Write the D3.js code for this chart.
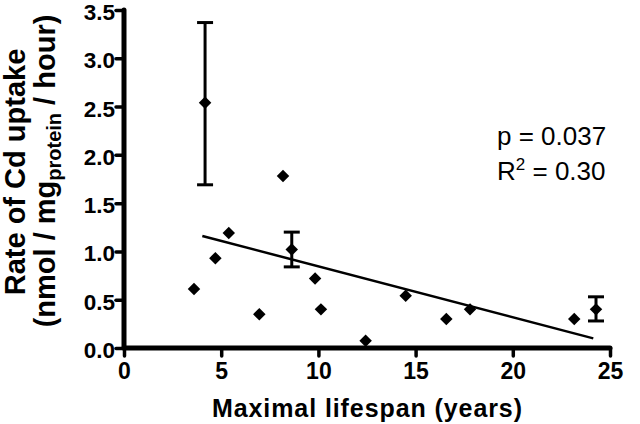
<!DOCTYPE html>
<html>
<head>
<meta charset="utf-8">
<script src="https://cdn.jsdelivr.net/npm/d3@7"></script>
<style>
  html, body { margin: 0; padding: 0; background: #fff; }
  svg { display: block; }
  text { font-family: "Liberation Sans", Arial, Helvetica, sans-serif; fill: #000; }
</style>
</head>
<body>
<svg id="chart" width="640" height="424"></svg>
<script>
// ---- data ----
const lifespan = [3.60, 4.17, 4.70, 5.39, 6.96, 8.18, 8.63, 9.83, 10.13, 12.43, 14.49, 16.58, 17.80, 23.16, 24.28];
const uptake   = [0.61, 2.54, 0.93, 1.19, 0.35, 1.78, 1.02, 0.72, 0.40, 0.076, 0.54, 0.30, 0.40, 0.30, 0.40];
const errLow   = [null, 1.69, null, null, null, null, 0.84, null, null, null, null, null, null, null, 0.28];
const errHigh  = [null, 3.37, null, null, null, null, 1.20, null, null, null, null, null, null, null, 0.53];
const fitX = [4.03, 24.14];
const fitY = [1.16, 0.10];
const xTicks = [0, 5, 10, 15, 20, 25];
const yTicks = [0.0, 0.5, 1.0, 1.5, 2.0, 2.5, 3.0, 3.5];
const statP = "p = 0.037";
const statR = "0.30";

// ---- chart ----
const svg = d3.select("#chart");
const x = d3.scaleLinear().domain([0, 25]).range([124, 610]);
const y = d3.scaleLinear().domain([0, 3.5]).range([348, 10]);

// axes
const xAxis = svg.append("g").attr("transform", `translate(0,${y(0)})`)
  .call(d3.axisBottom(x).tickValues(xTicks).tickFormat(d3.format("d")).tickSize(8).tickPadding(6));
const yAxis = svg.append("g").attr("transform", `translate(${x(0)},0)`)
  .call(d3.axisLeft(y).tickValues(yTicks).tickFormat(d3.format(".1f")).tickSize(8).tickPadding(1));

[xAxis, yAxis].forEach(g => {
  g.select(".domain").remove();
  g.selectAll(".tick line").attr("stroke", "#000").attr("stroke-width", 3.5).attr("stroke-linecap", "round");
  g.selectAll(".tick text").attr("fill", "#000")
    .style("font-family", "'Liberation Sans', Arial, sans-serif")
    .style("font-weight", "bold").style("font-size", "23px");
});
xAxis.selectAll(".tick text").attr("dy", "0.75em");
yAxis.selectAll(".tick text").attr("dy", "0.42em").style("font-size", "22.5px");

// axis lines
svg.append("line").attr("x1", x(0)).attr("x2", x(0)).attr("y1", y(0)).attr("y2", y(3.5))
  .attr("stroke", "#000").attr("stroke-width", 5).attr("stroke-linecap", "round");
svg.append("line").attr("x1", x(0)).attr("x2", x(25)).attr("y1", y(0)).attr("y2", y(0))
  .attr("stroke", "#000").attr("stroke-width", 5).attr("stroke-linecap", "round");

// regression line
svg.append("path")
  .datum(fitX.map((v, i) => [v, fitY[i]]))
  .attr("d", d3.line().x(d => x(d[0])).y(d => y(d[1])))
  .attr("stroke", "#000").attr("stroke-width", 2.5).attr("fill", "none");

// error bars
const pts = lifespan.map((v, i) => ({ x: v, y: uptake[i], lo: errLow[i], hi: errHigh[i] }));
const eb = svg.append("g").selectAll("g").data(pts.filter(d => d.lo !== null)).join("g");
eb.append("line").attr("x1", d => x(d.x)).attr("x2", d => x(d.x))
  .attr("y1", d => y(d.lo)).attr("y2", d => y(d.hi)).attr("stroke", "#000").attr("stroke-width", 3);
eb.append("line").attr("x1", d => x(d.x) - 8).attr("x2", d => x(d.x) + 8)
  .attr("y1", d => y(d.hi)).attr("y2", d => y(d.hi)).attr("stroke", "#000").attr("stroke-width", 3);
eb.append("line").attr("x1", d => x(d.x) - 8).attr("x2", d => x(d.x) + 8)
  .attr("y1", d => y(d.lo)).attr("y2", d => y(d.lo)).attr("stroke", "#000").attr("stroke-width", 3);

// points (diamonds)
const sym = d3.symbol().type(d3.symbolSquare).size(78);
svg.append("g").selectAll("path").data(pts).join("path")
  .attr("d", sym)
  .attr("transform", d => `translate(${x(d.x)},${y(d.y)}) rotate(45)`)
  .attr("fill", "#000");

// stats text
svg.append("text").attr("x", 497).attr("y", 145).style("font-size", "26px").text(statP);
const r2 = svg.append("text").attr("x", 497).attr("y", 180).style("font-size", "26px");
r2.append("tspan").text("R");
r2.append("tspan").attr("dy", -10).style("font-size", "17px").text("2");
r2.append("tspan").attr("dy", 10).text(" = " + statR);

// x title
svg.append("text").attr("x", 367).attr("y", 417).attr("text-anchor", "middle")
  .style("font-size", "25px").style("font-weight", "bold")
  .attr("textLength", 310).attr("lengthAdjust", "spacing")
  .text("Maximal lifespan (years)");

// y title
svg.append("text").attr("transform", "translate(25,172) rotate(-90)").attr("text-anchor", "middle")
  .style("font-size", "29px").style("font-weight", "bold")
  .text("Rate of Cd uptake");
const yt2 = svg.append("text").attr("transform", "translate(55,171) rotate(-90)").attr("text-anchor", "middle")
  .style("font-size", "29px").style("font-weight", "bold");
yt2.append("tspan").text("(nmol / mg");
yt2.append("tspan").attr("dy", 6).style("font-size", "20px").text("protein");
yt2.append("tspan").attr("dy", -6).text(" / hour)");
</script>
</body>
</html>
